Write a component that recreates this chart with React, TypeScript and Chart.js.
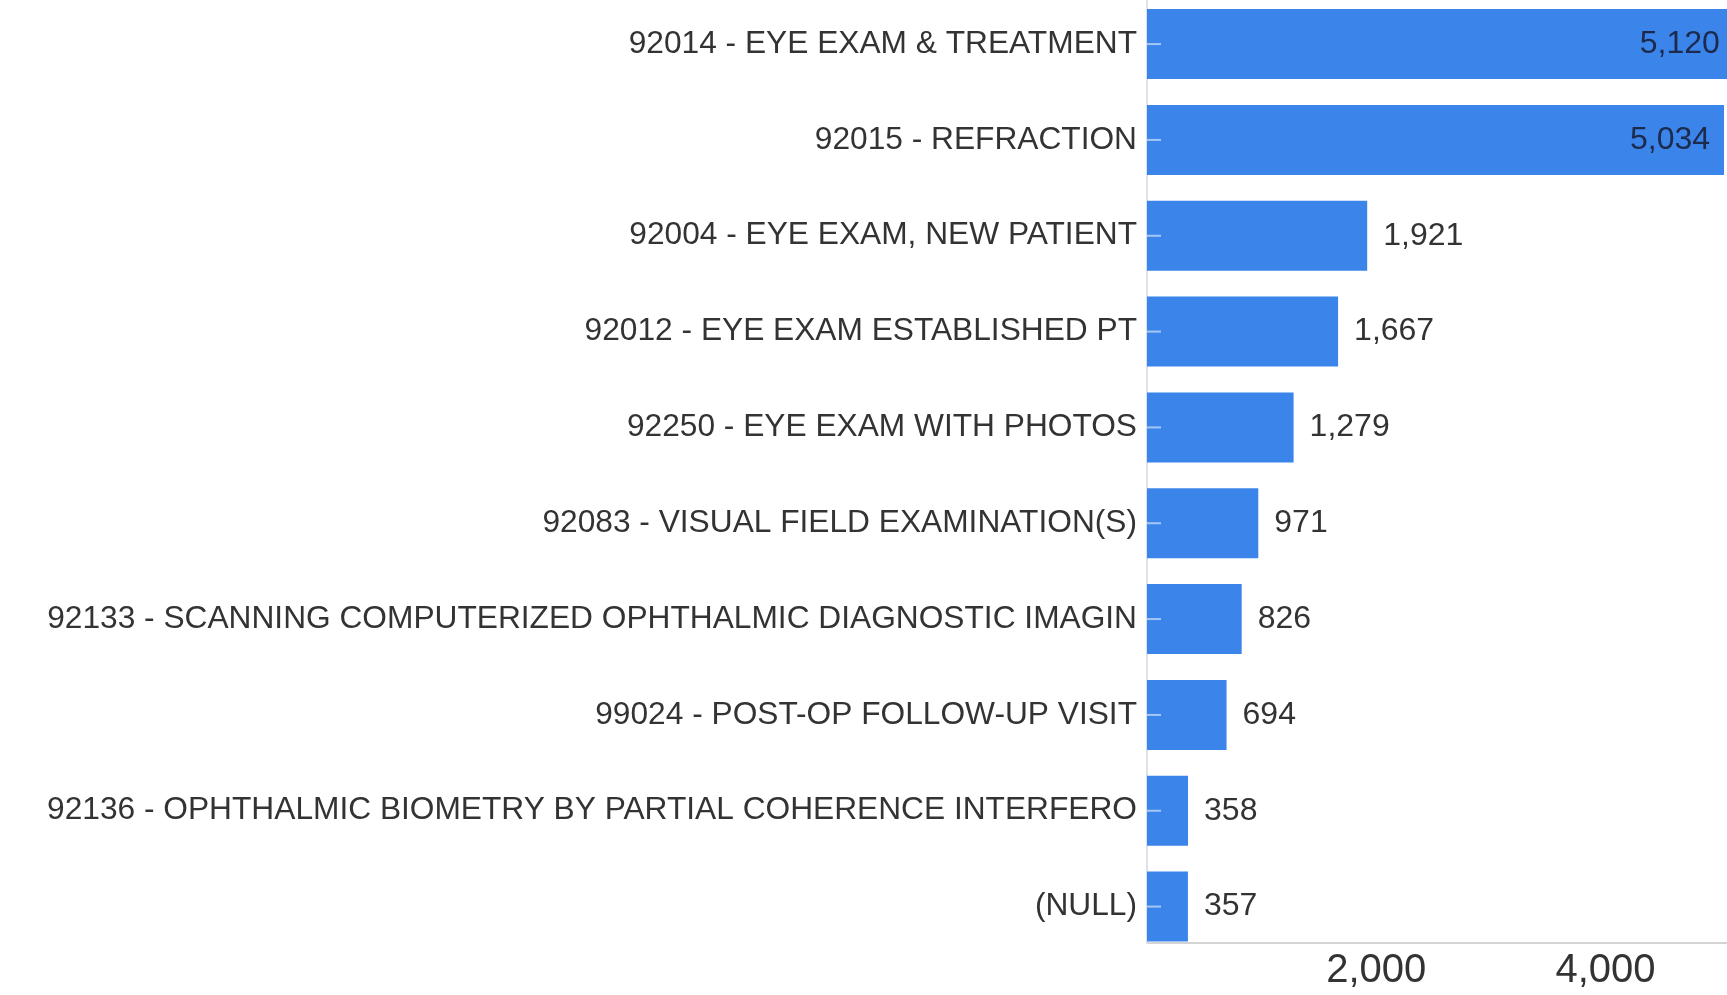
import React, { useEffect, useRef } from 'react';
import { Chart, registerables } from 'chart.js';

Chart.register(...registerables);

const categories = [
  '92014 - EYE EXAM & TREATMENT',
  '92015 - REFRACTION',
  '92004 - EYE EXAM, NEW PATIENT',
  '92012 - EYE EXAM ESTABLISHED PT',
  '92250 - EYE EXAM WITH PHOTOS',
  '92083 - VISUAL FIELD EXAMINATION(S)',
  '92133 - SCANNING COMPUTERIZED OPHTHALMIC DIAGNOSTIC IMAGIN',
  '99024 - POST-OP FOLLOW-UP VISIT',
  '92136 - OPHTHALMIC BIOMETRY BY PARTIAL COHERENCE INTERFERO',
  '(NULL)',
];
const values = [5120, 5034, 1921, 1667, 1279, 971, 826, 694, 358, 357];
const xTickValues = [2000, 4000];
const xMin = 0;
const xMax = 5060;
// visible range of the (index) category axis
const yMin = -0.46;
const yMax = 9.38;

const FONT = "'Liberation Sans', Arial, sans-serif";

export default function App() {
  const ref = useRef<HTMLCanvasElement>(null);

  useEffect(() => {
    document.body.style.margin = '0';
    document.body.style.overflow = 'hidden';
    const canvas = ref.current;
    if (!canvas) return;

    const valueLabels = {
      id: 'valueLabels',
      afterDatasetsDraw(chart: any) {
        const { ctx, chartArea } = chart;
        const meta = chart.getDatasetMeta(0);
        const xs = chart.scales.x;
        ctx.save();
        meta.data.forEach((bar: any, i: number) => {
          const v = values[i];
          const start = xs.getPixelForValue(0);
          ctx.strokeStyle = 'rgba(255,255,255,0.55)';
          ctx.lineWidth = 2;
          ctx.beginPath();
          ctx.moveTo(start, bar.y);
          ctx.lineTo(start + 14, bar.y);
          ctx.stroke();

          const end = xs.getPixelForValue(v);
          const text = v.toLocaleString('en-US');
          ctx.font = `32px ${FONT}`;
          ctx.textBaseline = 'middle';
          const w = ctx.measureText(text).width;
          if (end + 16 + w > chartArea.right) {
            ctx.fillStyle = '#1c2a4c';
            ctx.textAlign = 'right';
            ctx.fillText(text, end - 14, bar.y);
          } else {
            ctx.fillStyle = '#333333';
            ctx.textAlign = 'left';
            ctx.fillText(text, end + 16, bar.y);
          }
        });
        ctx.restore();
      },
    };

    const chart = new Chart(canvas, {
      type: 'bar',
      data: {
        datasets: [
          {
            data: values.map((v, i) => ({ x: v, y: i })),
            backgroundColor: '#3b84e9',
            borderWidth: 0,
            categoryPercentage: 1,
            barPercentage: 0.73,
          },
        ],
      },
      options: {
        indexAxis: 'y',
        animation: false,
        responsive: true,
        maintainAspectRatio: false,
        layout: { padding: 0 },
        plugins: {
          legend: { display: false },
          tooltip: { enabled: false },
          title: { display: false },
        },
        scales: {
          x: {
            type: 'linear',
            min: xMin,
            max: xMax,
            offset: false,
            afterBuildTicks: (s: any) => {
              s.ticks = xTickValues.map((v) => ({ value: v }));
            },
            afterFit: (s: any) => {
              s.height = 52;
              s.paddingLeft = 0;
              s.paddingRight = 0;
            },
            grid: { display: false, drawTicks: false, offset: false },
            border: { display: true, color: '#d4d4d4', width: 2 },
            ticks: {
              padding: 4,
              color: '#333333',
              font: { family: FONT, size: 40 },
              callback: (v: any) => Number(v).toLocaleString('en-US'),
            },
          },
          y: {
            type: 'linear',
            reverse: true,
            min: yMin,
            max: yMax,
            offset: false,
            afterBuildTicks: (s: any) => {
              s.ticks = categories.map((_, i) => ({ value: i }));
            },
            afterFit: (s: any) => {
              s.width = 1147;
              s.paddingTop = 0;
              s.paddingBottom = 0;
            },
            grid: { display: false, drawTicks: false, offset: false },
            border: { display: true, color: '#dde2ea', width: 2 },
            ticks: {
              padding: 10,
              color: '#333333',
              font: { family: FONT, size: 31.7 },
              callback: (v: any) => categories[Number(v)] ?? '',
            },
          },
        },
      },
      plugins: [valueLabels],
    });
    return () => chart.destroy();
  }, []);

  return (
    <div style={{ position: 'relative', width: 1727, height: 995 }}>
      <canvas ref={ref} />
    </div>
  );
}
